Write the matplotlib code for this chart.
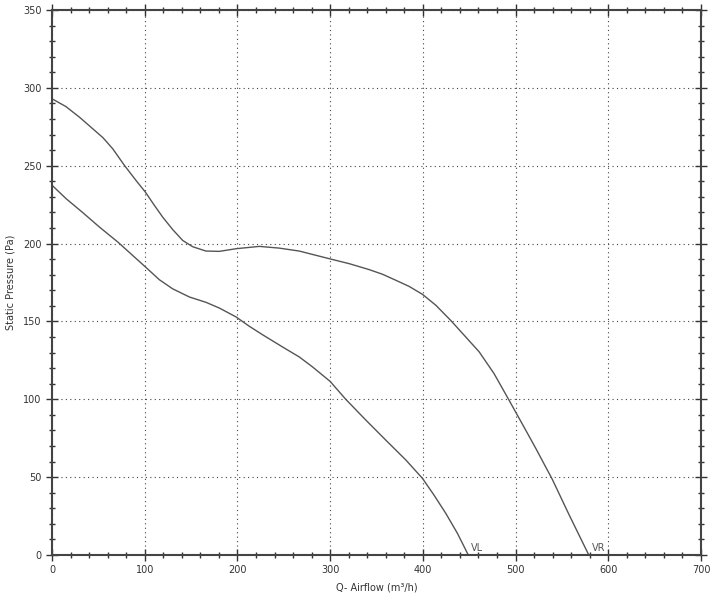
import matplotlib
matplotlib.use("Agg")
import matplotlib.pyplot as plt
from matplotlib.ticker import MultipleLocator

# Upper curve (VR)
vr_x = [0, 15, 30, 55, 65.5, 78.4, 90.7, 100.8, 110.5, 119.4, 130.2, 141, 151.7, 166, 180.5, 198.5,
        223.6, 245, 266.7, 299, 320.6, 342, 356.5, 371, 385.2, 399.6, 414, 430, 446.3, 460.7,
        476.8, 493, 507.4, 521.8, 539.7, 557.6, 579]
vr_y = [293, 288, 281, 268, 260.9, 250, 240.5, 233, 224.5, 217, 209, 202, 198, 195.2, 195, 196.7,
        198.2, 197.1, 195.2, 190.3, 187.1, 183.3, 180.3, 176.4, 172.5, 167.4, 160.4, 150.7, 140, 130.5,
        116.5, 99.4, 84, 68.5, 48.5, 26, 0]

# Lower curve (VL)
vl_x = [0, 15.3, 33, 51.2, 71, 87, 100.8, 115.8, 130, 148.2, 166, 180.5, 198.5, 212.8, 227, 248.7,
        266.7, 281, 300, 317, 338.6, 360, 381.7, 399.6, 412, 424.8, 437.3, 449]
vl_y = [237.5, 228.8, 220, 210.6, 201, 192.4, 185, 176.8, 171, 165.7, 162.3, 158.6, 152.9, 146.9, 141.5, 133.6,
        127.2, 120.8, 111.5, 99.9, 86.6, 73.8, 61, 49.2, 38.5, 26.7, 13.9, 0]

curve_labels = ["VR", "VL"]
x_label = "Q- Airflow (m³/h)"
y_label = "Static Pressure (Pa)"

fig = plt.figure(figsize=(7.2, 6), dpi=100)
ax = fig.add_axes([0.0722, 0.075, 0.9014, 0.9083])

lc = "#555555"
ax.plot(vr_x, vr_y, color=lc, lw=1.0, solid_joinstyle="round")
ax.plot(vl_x, vl_y, color=lc, lw=1.0, solid_joinstyle="round")
ax.text(vr_x[-1] + 3, 1.5, curve_labels[0], fontsize=7, color="#555555", ha="left", va="bottom")
ax.text(vl_x[-1] + 3, 1.5, curve_labels[1], fontsize=7, color="#555555", ha="left", va="bottom")

ax.set_xlim(0, 700)
ax.set_ylim(0, 350)
ax.xaxis.set_major_locator(MultipleLocator(100))
ax.xaxis.set_minor_locator(MultipleLocator(20))
ax.yaxis.set_major_locator(MultipleLocator(50))
ax.yaxis.set_minor_locator(MultipleLocator(10))

ax.grid(True, which="major", linestyle=(0, (1, 3)), color="#444444", lw=0.8)

for s in ax.spines.values():
    s.set_color("#444444")
    s.set_linewidth(1.5)

ax.tick_params(which="both", direction="inout", color="#333333", width=1.0,
               labelsize=7, labelcolor="#333333", top=True, right=True)
ax.tick_params(which="major", length=8)
ax.tick_params(which="minor", length=5)

ax.set_xlabel(x_label, fontsize=7, color="#333333")
ax.set_ylabel(y_label, fontsize=7, color="#333333")
ax.xaxis.set_label_coords(0.5, -0.051)
ax.yaxis.set_label_coords(-0.056, 0.5)

fig.savefig("out.png", dpi=100)
